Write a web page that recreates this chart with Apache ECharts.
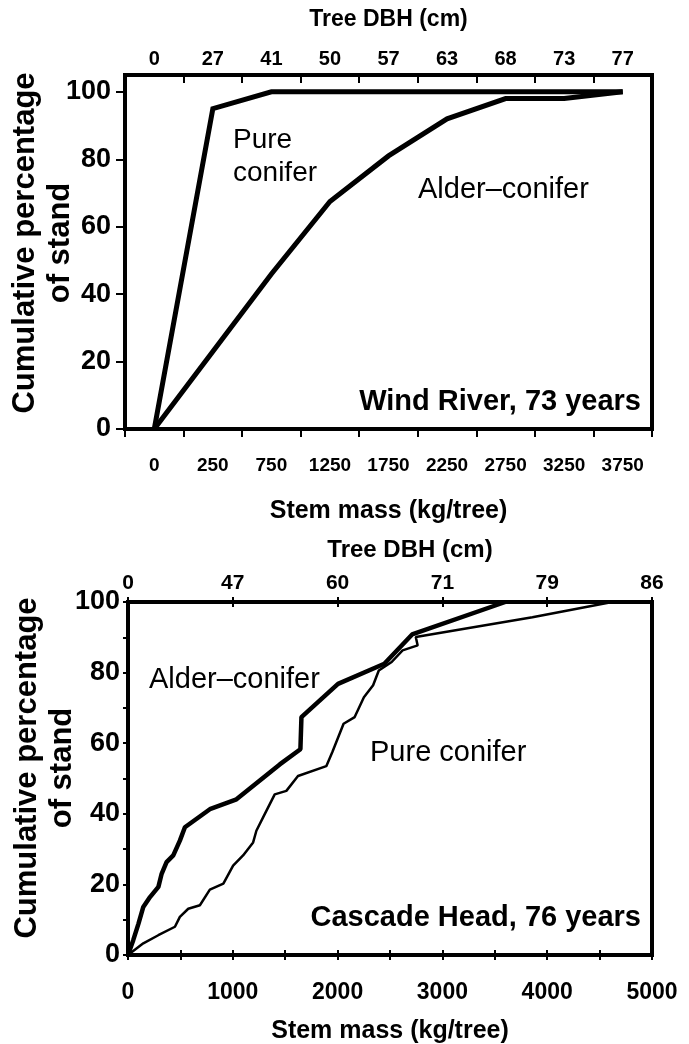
<!DOCTYPE html>
<html>
<head>
<meta charset="utf-8">
<script src="https://cdn.jsdelivr.net/npm/echarts@6/dist/echarts.min.js"></script>
<style>
html,body{margin:0;padding:0;background:#fff;}
#chart{width:689px;height:1044px;}
</style>
</head>
<body>
<div id="chart"></div>
<script>
// ---- Wind River (top panel) ----
const windMassCategories = ['0', '250', '750', '1250', '1750', '2250', '2750', '3250', '3750'];
const windDBHLabels = ['0', '27', '41', '50', '57', '63', '68', '73', '77'];
const windPureConifer = [0, 95, 100, 100, 100, 100, 100, 100, 100];
const windAlderConifer = [0, 23, 46, 67.5, 81, 92, 98, 98, 100];
const percentTicks = [0, 20, 40, 60, 80, 100];

// ---- Cascade Head (bottom panel) ----
const cascadeDBHLabels = ['0', '47', '60', '71', '79', '86'];
const cascadeAlderConifer = [
  [0, 0], [50, 4.2], [100, 8.9], [146, 13.6], [210, 16.4], [290, 19.3], [305, 19.8],
  [321, 23], [337, 22.9], [368, 26.3], [432, 28.2], [495, 32.4], [543, 36.2],
  [781, 41.3], [1035, 44.1], [1448, 54], [1645, 58.3], [1655, 67.4],
  [2004, 76.8], [2446, 82.5], [2711, 90.8], [3600, 100]
];
const cascadePureConifer = [
  [0, 0], [146, 3.3], [289, 5.6], [448, 8], [495, 10.8], [575, 13.1], [686, 14.1],
  [781, 18.5], [910, 20.2], [1003, 25.3], [1098, 28.2], [1194, 31.9], [1225, 35.2],
  [1289, 39], [1400, 45.5], [1511, 46.5], [1622, 50.7], [1892, 53.5], [1950, 57.5],
  [2057, 65.5], [2163, 67.4], [2251, 73], [2339, 76.4], [2393, 80.6], [2516, 83],
  [2620, 86.3], [2764, 87.7], [2746, 90.1], [3859, 95.7], [4620, 100]
];
const yAxisTitle = 'Cumulative percentage\nof stand';

const FONT = '"Liberation Sans", Arial, sans-serif';
const black = '#000';

const chart = echarts.init(document.getElementById('chart'), null, {renderer: 'canvas'});

const tickStyle = {color: black, width: 2};
const yNameStyle = {text: yAxisTitle, fill: black, font: 'bold 31px ' + FONT, lineHeight: 35, align: 'center', verticalAlign: 'middle'};

const option = {
  backgroundColor: '#fff',
  animation: false,
  grid: [
    {left: 125, top: 75, width: 527, height: 354, show: true, borderColor: black, borderWidth: 4,
      backgroundColor: 'transparent', containLabel: false, outerBoundsMode: 'none'},
    {left: 128, top: 602, width: 524, height: 353, show: true, borderColor: black, borderWidth: 4,
      backgroundColor: 'transparent', containLabel: false, outerBoundsMode: 'none'}
  ],
  xAxis: [
    { // 0: top panel bottom axis (stem mass)
      type: 'category', gridIndex: 0, position: 'bottom', data: windMassCategories, boundaryGap: true,
      axisLine: {show: false},
      axisTick: {show: true, inside: false, length: 8, lineStyle: tickStyle, interval: 0},
      axisLabel: {interval: 0, margin: 27, color: black, fontFamily: FONT, fontWeight: 'bold', fontSize: 19},
      name: 'Stem mass (kg/tree)', nameLocation: 'middle', nameGap: 70,
      nameTextStyle: {color: black, fontFamily: FONT, fontWeight: 'bold', fontSize: 25},
      splitLine: {show: false}
    },
    { // 1: top panel top axis (DBH)
      type: 'category', gridIndex: 0, position: 'top', data: windDBHLabels, boundaryGap: true,
      axisLine: {show: false},
      axisTick: {show: true, inside: true, length: 8, lineStyle: tickStyle, interval: 0},
      axisLabel: {interval: 0, margin: 6, color: black, fontFamily: FONT, fontWeight: 'bold', fontSize: 20},
      name: 'Tree DBH (cm)', nameLocation: 'middle', nameGap: 44,
      nameTextStyle: {color: black, fontFamily: FONT, fontWeight: 'bold', fontSize: 23},
      splitLine: {show: false}
    },
    { // 2: bottom panel bottom axis, labels + outward ticks
      type: 'value', gridIndex: 1, position: 'bottom', min: 0, max: 5000, interval: 1000,
      axisLine: {show: false},
      axisTick: {show: true, inside: false, length: 5, lineStyle: tickStyle},
      minorTick: {show: true, splitNumber: 2, length: 5, lineStyle: tickStyle},
      axisLabel: {margin: 26, color: black, fontFamily: FONT, fontWeight: 'bold', fontSize: 23,
        formatter: v => String(v)},
      name: 'Stem mass (kg/tree)', nameLocation: 'middle', nameGap: 64,
      nameTextStyle: {color: black, fontFamily: FONT, fontWeight: 'bold', fontSize: 25},
      splitLine: {show: false}, minorSplitLine: {show: false}
    },
    { // 3: bottom panel bottom axis, inward ticks
      type: 'value', gridIndex: 1, position: 'bottom', min: 0, max: 5000, interval: 1000,
      axisLine: {show: false},
      axisTick: {show: true, inside: true, length: 5, lineStyle: tickStyle},
      minorTick: {show: true, splitNumber: 2, length: 5, lineStyle: tickStyle},
      axisLabel: {show: false}, splitLine: {show: false}, minorSplitLine: {show: false}
    },
    { // 4: bottom panel top axis (DBH), labels + outward ticks
      type: 'value', gridIndex: 1, position: 'top', min: 0, max: 5000, interval: 1000,
      axisLine: {show: false},
      axisTick: {show: true, inside: false, length: 5, lineStyle: tickStyle},
      axisLabel: {margin: 8, color: black, fontFamily: FONT, fontWeight: 'bold', fontSize: 21,
        formatter: v => cascadeDBHLabels[Math.round(v / 1000)]},
      name: 'Tree DBH (cm)', nameLocation: 'middle', nameGap: 40,
      nameTextStyle: {color: black, fontFamily: FONT, fontWeight: 'bold', fontSize: 24, padding: [0, 0, 0, 40]},
      splitLine: {show: false}
    },
    { // 5: bottom panel top axis, inward ticks
      type: 'value', gridIndex: 1, position: 'top', min: 0, max: 5000, interval: 1000,
      axisLine: {show: false},
      axisTick: {show: true, inside: true, length: 5, lineStyle: tickStyle},
      axisLabel: {show: false}, splitLine: {show: false}
    }
  ],
  yAxis: [
    { // 0: top panel
      type: 'value', gridIndex: 0, min: 0, max: 105, interval: 20,
      axisLine: {show: false},
      axisTick: {show: true, inside: false, length: 9, lineStyle: tickStyle, customValues: percentTicks},
      axisLabel: {margin: 14, color: black, fontFamily: FONT, fontWeight: 'bold', fontSize: 27, customValues: percentTicks},
      splitLine: {show: false}
    },
    { // 1: bottom panel, labels + outward ticks
      type: 'value', gridIndex: 1, min: 0, max: 100, interval: 20,
      axisLine: {show: false},
      axisTick: {show: true, inside: false, length: 5, lineStyle: tickStyle},
      minorTick: {show: true, splitNumber: 2, length: 5, lineStyle: tickStyle},
      axisLabel: {margin: 8, color: black, fontFamily: FONT, fontWeight: 'bold', fontSize: 27},
      splitLine: {show: false}, minorSplitLine: {show: false}
    },
    { // 2: bottom panel, inward ticks
      type: 'value', gridIndex: 1, min: 0, max: 100, interval: 20,
      axisLine: {show: false},
      axisTick: {show: true, inside: true, length: 5, lineStyle: tickStyle},
      minorTick: {show: true, splitNumber: 2, length: 5, lineStyle: tickStyle},
      axisLabel: {show: false}, splitLine: {show: false}, minorSplitLine: {show: false}
    }
  ],
  series: [
    {name: 'Pure conifer (Wind River)', type: 'line', xAxisIndex: 0, yAxisIndex: 0, data: windPureConifer,
      symbol: 'none', lineStyle: {color: black, width: 5, join: 'miter'}, z: 5},
    {name: 'Alder–conifer (Wind River)', type: 'line', xAxisIndex: 0, yAxisIndex: 0, data: windAlderConifer,
      symbol: 'none', lineStyle: {color: black, width: 5, join: 'miter'}, z: 5},
    {name: 'Alder–conifer (Cascade Head)', type: 'line', xAxisIndex: 2, yAxisIndex: 1, data: cascadeAlderConifer,
      symbol: 'none', lineStyle: {color: black, width: 4.5}, z: 5},
    {name: 'Pure conifer (Cascade Head)', type: 'line', xAxisIndex: 2, yAxisIndex: 1, data: cascadePureConifer,
      symbol: 'none', lineStyle: {color: black, width: 2.5}, z: 5}
  ],
  graphic: [
    {type: 'text', x: 43, y: 243, rotation: Math.PI / 2, style: yNameStyle},
    {type: 'text', x: 45, y: 768, rotation: Math.PI / 2, style: yNameStyle},
    {type: 'text', x: 233, y: 157, style: {text: 'Pure\nconifer', fill: black, font: '28px ' + FONT, lineHeight: 33, align: 'left', verticalAlign: 'middle'}},
    {type: 'text', x: 418, y: 190, style: {text: 'Alder–conifer', fill: black, font: '29px ' + FONT, align: 'left', verticalAlign: 'middle'}},
    {type: 'text', x: 641, y: 402, style: {text: 'Wind River, 73 years', fill: black, font: 'bold 29px ' + FONT, align: 'right', verticalAlign: 'middle'}},
    {type: 'text', x: 149, y: 680, style: {text: 'Alder–conifer', fill: black, font: '29px ' + FONT, align: 'left', verticalAlign: 'middle'}},
    {type: 'text', x: 370, y: 753, style: {text: 'Pure conifer', fill: black, font: '29px ' + FONT, align: 'left', verticalAlign: 'middle'}},
    {type: 'text', x: 641, y: 918, style: {text: 'Cascade Head, 76 years', fill: black, font: 'bold 29px ' + FONT, align: 'right', verticalAlign: 'middle'}}
  ]
};

chart.setOption(option);
</script>
</body>
</html>
